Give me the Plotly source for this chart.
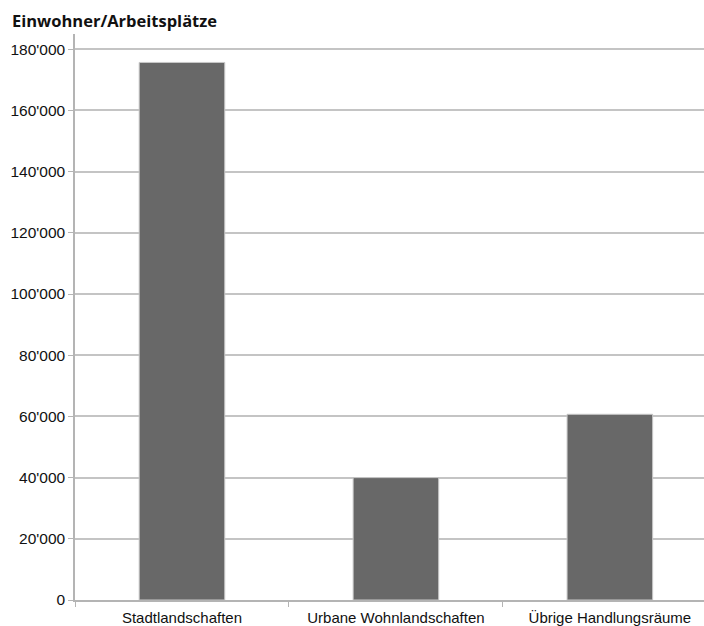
import plotly.graph_objects as go

categories = ['Stadtlandschaften', 'Urbane Wohnlandschaften', 'Übrige Handlungsräume']
einwohner_arbeitsplaetze = [175700, 40000, 60700]
y_ticks = [0, 20000, 40000, 60000, 80000, 100000, 120000, 140000, 160000, 180000]

fig = go.Figure()

fig.add_trace(go.Bar(
    x=categories,
    y=einwohner_arbeitsplaetze,
    marker=dict(color='#686868', line=dict(color='#c8c8c8', width=1)),
    width=0.4,
    showlegend=False,
    hoverinfo='x+y',
))

fig.update_layout(
    width=704,
    height=626,
    margin=dict(l=75, r=0, t=34, b=26),
    paper_bgcolor='white',
    plot_bgcolor='white',
    separators=".'",
    font=dict(family='Liberation Sans, Arial, sans-serif', size=15, color='#111111'),
    title=dict(
        text='<b>Einwohner/Arbeitsplätze</b>',
        font=dict(family='Open Sans, Liberation Sans, sans-serif', size=16.5, color='#111111'),
        xref='container', yref='container',
        x=12 / 704, xanchor='left',
        y=1 - 21 / 626, yanchor='middle',
        pad=dict(l=0, r=0, t=0, b=0),
    ),
    xaxis=dict(
        range=[-0.5, 2.44],
        automargin=False,
        showline=True,
        linecolor='#b4b4b4',
        linewidth=1.5,
        ticks='outside',
        tickson='boundaries',
        ticklen=5,
        tickcolor='#b4b4b4',
        showgrid=False,
        ticklabelstandoff=3,
        tickfont=dict(size=15),
    ),
    yaxis=dict(
        range=[0, 185000],
        automargin=False,
        tickvals=y_ticks,
        tickformat=',d',
        showline=True,
        linecolor='#b4b4b4',
        linewidth=1.5,
        ticks='outside',
        ticklen=5,
        tickcolor='#b4b4b4',
        showgrid=True,
        gridcolor='#c4c4c4',
        gridwidth=1.5,
        zeroline=False,
        tickfont=dict(size=15.5),
    ),
)

fig.write_html(
    "out.html",
    config={'displayModeBar': False},
    post_script="document.body.style.margin='0';document.body.style.overflow='hidden';",
)
